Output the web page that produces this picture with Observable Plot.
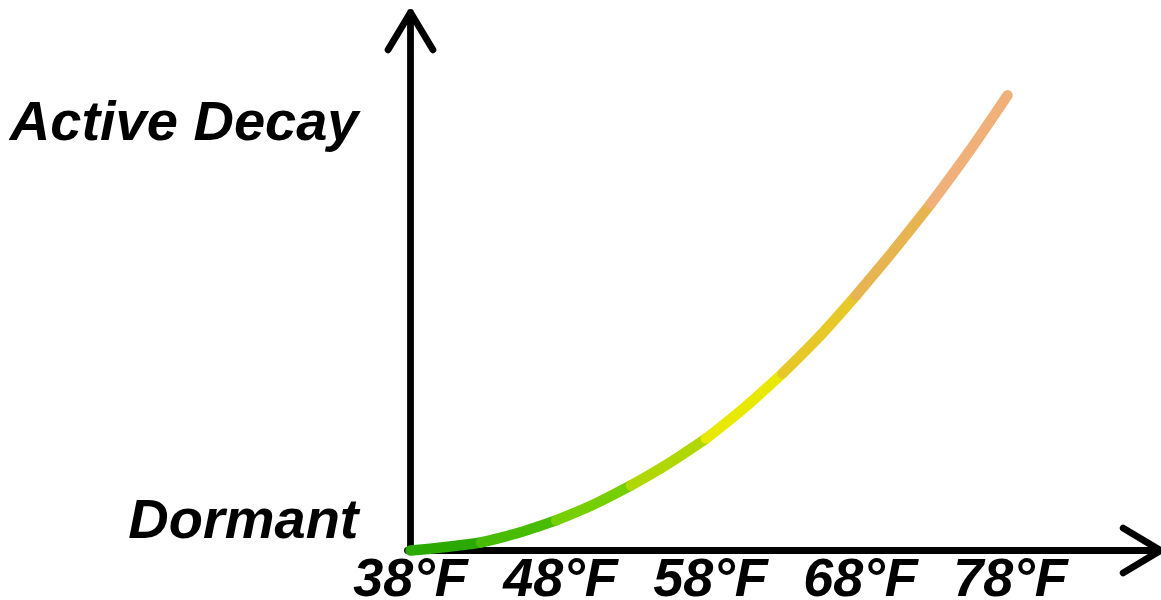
<!DOCTYPE html>
<html><head><meta charset="utf-8">
<script src="https://cdn.jsdelivr.net/npm/d3@7"></script>
<script src="https://cdn.jsdelivr.net/npm/@observablehq/plot@0.6"></script>
<style>html,body{margin:0;padding:0;background:#fff}</style>
</head><body><div id="chart"></div>
<script>
// Temperature (°F) along the curve and relative decay activity (0–100)
const temps = [38, 40.5, 42.7, 45.1, 47.7, 50.1, 52.7, 55.1, 57.7, 60.2, 62.8, 65.2, 67.7, 70.1, 72.7, 75.2, 77.8];
const decay = [0, 0.7, 1.5, 3.2, 5.6, 8.4, 12.1, 16.0, 20.8, 26.4, 32.9, 39.6, 47.4, 55.4, 64.5, 74.0, 84.6];
const segment = [0, 0, 1, 1, 2, 2, 3, 3, 4, 4, 5, 5, 6, 6, 7, 7, 7];
const palette = ["#2aaa00", "#48bc00", "#76cf00", "#b0d800", "#e8e800", "#e6c828", "#e6b450", "#f0b07a"];
const xTicks = [38, 48, 58, 68, 78];
const yLevels = [5.6, 79.6];
const yLabels = ["Dormant", "Active Decay"];
const xDomain = [38, 88];
const yDomain = [0, 100];

const curve = temps.map((t, i) => ({t, v: decay[i], c: palette[segment[i]]}));
const family = "Liberation Sans, Arial, sans-serif";

const chart = Plot.plot({
  width: 1161,
  height: 600,
  marginLeft: 410,
  marginRight: 1,
  marginTop: 12,
  marginBottom: 50,
  style: {background: "#fff", color: "#000", overflow: "visible"},
  x: {domain: xDomain},
  y: {domain: yDomain},
  marks: [
    Plot.axisX({ticks: xTicks, tickFormat: d => `${d}°F`, tickSize: 0, tickPadding: 7, label: null,
      fontSize: 54, fontWeight: "bold", fontStyle: "italic", fontFamily: family}),
    Plot.axisY({ticks: yLevels, tickFormat: d => yLabels[yLevels.indexOf(d)], tickSize: 0, tickPadding: 52, label: null,
      fontSize: 56, fontWeight: "bold", fontStyle: "italic", fontFamily: family}),
    Plot.arrow([0], {x1: xDomain[0], y1: yDomain[0], x2: xDomain[0], y2: yDomain[1], stroke: "#000", strokeWidth: 6.8, headLength: 9.6, headAngle: 62}),
    Plot.arrow([0], {x1: xDomain[0] - 0.2, y1: yDomain[0], x2: xDomain[1], y2: yDomain[0], stroke: "#000", strokeWidth: 6.8, headLength: 9.6, headAngle: 62}),
    Plot.line(curve, {x: "t", y: "v", z: null, stroke: "c", strokeWidth: 10.5, strokeLinecap: "round", strokeLinejoin: "round", curve: "catmull-rom"})
  ]
});
document.getElementById("chart").appendChild(chart);
</script>
</body></html>
